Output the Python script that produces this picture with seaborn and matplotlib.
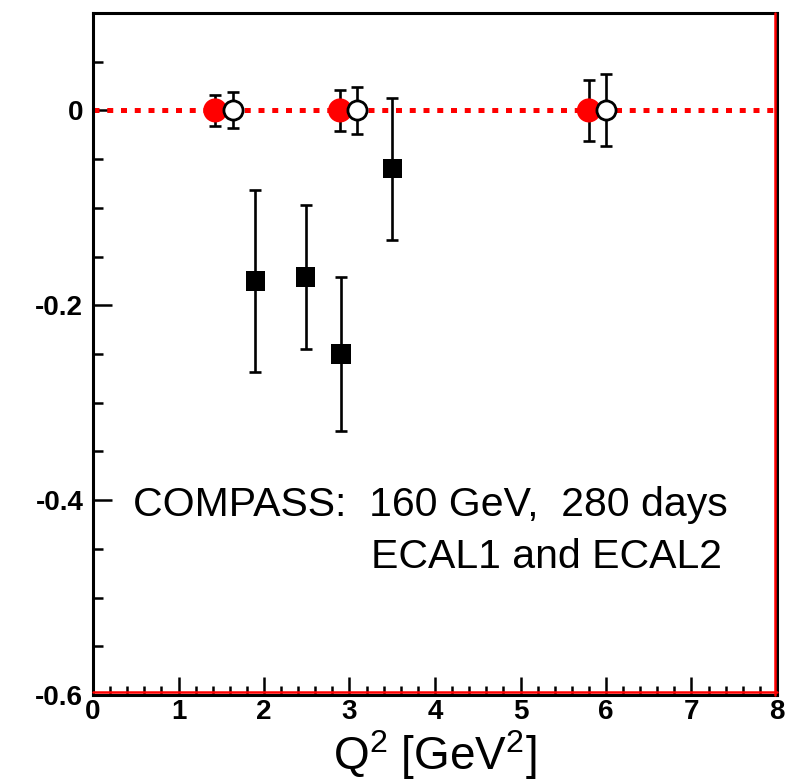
import numpy as np
import pandas as pd
import matplotlib
matplotlib.use("Agg")
import matplotlib.pyplot as plt
from matplotlib.ticker import MultipleLocator, FixedLocator
import seaborn as sns

# ====== data ======
red_x = [1.43, 2.89, 5.80]
red_y = [0.0, 0.0, 0.0]
red_err = [0.016, 0.021, 0.031]

open_x = [1.64, 3.09, 6.00]
open_y = [0.0, 0.0, 0.0]
open_err = [0.0185, 0.024, 0.037]

sq_x = [1.90, 2.49, 2.90, 3.50]
sq_y = [-0.175, -0.171, -0.250, -0.060]
sq_err = [0.093, 0.0735, 0.079, 0.073]

y_ticks = [0, -0.2, -0.4, -0.6]
y_ticklabels = ["0", "-0.2", "-0.4", "-0.6"]
x_ticks = [0, 1, 2, 3, 4, 5, 6, 7, 8]
# =======================================

sns.set_style("white")
plt.rcParams['font.family'] = ['Liberation Sans', 'DejaVu Sans']
plt.rcParams['text.color'] = 'black'
plt.rcParams['xtick.color'] = 'black'
plt.rcParams['ytick.color'] = 'black'
plt.rcParams['mathtext.fontset'] = 'custom'
plt.rcParams['mathtext.rm'] = 'Liberation Sans'

fig = plt.figure(figsize=(8.02, 7.81), dpi=100)
ax = fig.add_axes([93 / 802, 1 - 695 / 781, (777 - 93) / 802, (695 - 13) / 781])
ax.set_xlim(0, 8)
ax.set_ylim(-0.6, 0.1)

# dotted red zero line
ax.axhline(0, color="red", lw=3.6, ls=(0, (1.2, 1.55)), zorder=1)

# red border lines just inside the right and bottom frame
ax.plot([0.9965, 0.9965], [0, 1], transform=ax.transAxes, color="red", lw=1.8, zorder=6, clip_on=False)
ax.plot([0, 1], [0.004, 0.004], transform=ax.transAxes, color="red", lw=1.8, zorder=6, clip_on=False)

eb = dict(fmt="none", ecolor="black", elinewidth=1.9, capsize=4.6, capthick=1.9)
ax.errorbar(red_x, red_y, yerr=red_err, zorder=3, **eb)
ax.errorbar(open_x, open_y, yerr=open_err, zorder=3, **eb)
ax.errorbar(sq_x, sq_y, yerr=sq_err, zorder=3, **eb)

df_red = pd.DataFrame({"x": red_x, "y": red_y})
df_open = pd.DataFrame({"x": open_x, "y": open_y})
df_sq = pd.DataFrame({"x": sq_x, "y": sq_y})

sns.scatterplot(data=df_red, x="x", y="y", ax=ax, marker="o", s=300, color="red",
                edgecolor="none", zorder=4, legend=False)
sns.scatterplot(data=df_open, x="x", y="y", ax=ax, marker="o", s=190, facecolor="white",
                edgecolor="black", linewidth=2.0, zorder=5, legend=False)
sns.scatterplot(data=df_sq, x="x", y="y", ax=ax, marker="s", s=190, color="black",
                edgecolor="none", zorder=4, legend=False)

ax.set_xlabel("")
ax.set_ylabel("")

for sp in ax.spines.values():
    sp.set_linewidth(2.2)
    sp.set_color("black")

ax.yaxis.set_major_locator(FixedLocator(y_ticks))
ax.set_yticklabels(y_ticklabels)
ax.yaxis.set_minor_locator(MultipleLocator(0.05))
ax.xaxis.set_major_locator(FixedLocator(x_ticks))
ax.set_xticklabels([str(v) for v in x_ticks])
ax.xaxis.set_minor_locator(MultipleLocator(0.2))

ax.tick_params(axis="both", which="both", direction="in", top=False, right=False,
               left=True, bottom=True, color="black")
ax.tick_params(axis="y", which="major", length=14, width=1.8, labelsize=20, pad=7)
ax.tick_params(axis="y", which="minor", length=7, width=1.8)
ax.tick_params(axis="x", which="major", length=13, width=1.8, labelsize=20, pad=3)
ax.tick_params(axis="x", which="minor", length=6.5, width=1.8)
for lab in ax.get_xticklabels() + ax.get_yticklabels():
    lab.set_fontweight("bold")

ax.text(0.058, 0.278, "COMPASS:  160 GeV,  280 days", transform=ax.transAxes,
        fontsize=29.5, ha="left", va="center")
ax.text(0.919, 0.202, "ECAL1 and ECAL2", transform=ax.transAxes,
        fontsize=29.5, ha="right", va="center")

fig.text(435 / 802, 1 - 770 / 781, r"Q$^2$ [GeV$^2$]", fontsize=33, ha="center", va="baseline")

fig.savefig("out.png", dpi=100)
